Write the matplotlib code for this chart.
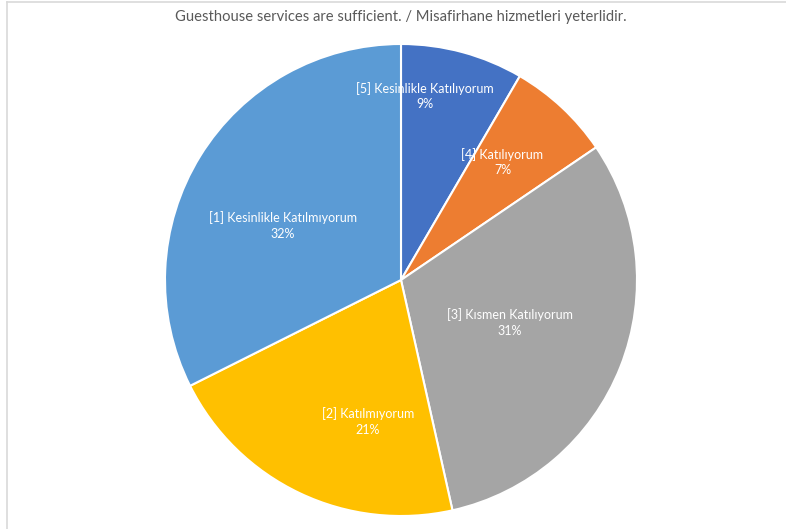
import matplotlib.pyplot as plt
from matplotlib.lines import Line2D

# answer categories, in the order drawn (clockwise from 12 o'clock)
categories = ['[5] Kesinlikle Katılıyorum', '[4] Katılıyorum', '[3] Kısmen Katılıyorum',
              '[2] Katılmıyorum', '[1] Kesinlikle Katılmıyorum']
# slice sizes as measured from the wedge angles
shares = [8.4, 7.1, 31.0, 21.1, 32.4]
# percentages as printed on the labels
pct_labels = [9, 7, 31, 21, 32]
colors = ['#4472C4', '#ED7D31', '#A5A5A5', '#FFC000', '#5B9BD5']

# where excel put each data label (in pie units, radius = 1)
label_pos = [(0.10, 0.78), (0.43, 0.50), (0.46, -0.18), (-0.14, -0.60), (-0.50, 0.23)]

plt.rcParams['font.family'] = ['Lato', 'DejaVu Sans']

W, H = 786, 529
fig = plt.figure(figsize=(W / 100.0, H / 100.0), dpi=100)

# pie centred at (401, 280) px from top-left, radius 236 px
cx, cy, r = 401, 280, 236
ax = fig.add_axes([(cx - r) / W, (H - cy - r) / H, 2 * r / W, 2 * r / H])
wedges, _ = ax.pie(shares, colors=colors, startangle=90, counterclock=False,
                   radius=1.0, wedgeprops=dict(edgecolor='white', linewidth=1.5))
ax.set_xlim(-1, 1)
ax.set_ylim(-1, 1)
ax.set_aspect('equal')
ax.axis('off')

for cat, pct, (lx, ly) in zip(categories, pct_labels, label_pos):
    ax.text(lx, ly, '%s\n%d%%' % (cat, pct), ha='center', va='center',
            color='white', fontsize=9, linespacing=1.35)

fig.text(401 / W, 1 - 17 / H, 'Guesthouse services are sufficient. / Misafirhane hizmetleri yeterlidir.',
         ha='center', va='center', fontsize=10.6, color='#595959')

# light frame (top and left edges of the chart area)
fig.add_artist(Line2D([7 / W, 7 / W], [0, 1 - 1.5 / H], transform=fig.transFigure,
                      color='#D9D9D9', linewidth=1.2))
fig.add_artist(Line2D([7 / W, 1], [1 - 1.5 / H, 1 - 1.5 / H], transform=fig.transFigure,
                      color='#D9D9D9', linewidth=1.2))

fig.savefig('out.png', dpi=100)
